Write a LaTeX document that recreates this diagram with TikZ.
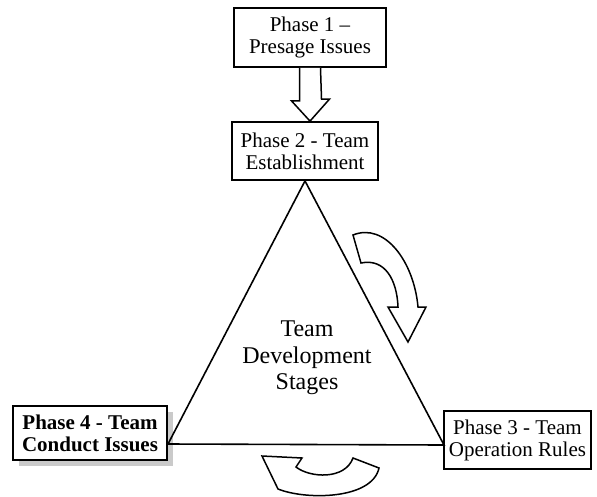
\documentclass[tikz,border=0pt]{standalone}
\usepackage{fontspec}
\setmainfont{Liberation Serif}
\usetikzlibrary{calc,shadows}
\begin{document}
\begin{tikzpicture}[x=1pt,y=-1pt,
  phasebox/.style={draw,line width=1.8pt,fill=white,align=center,inner sep=0pt,
    font=\fontsize{21}{22}\selectfont},
  blockarrow/.style={draw,fill=white,line width=1.5pt,line join=miter},
  edge/.style={line width=1.6pt,line join=miter}]
\useasboundingbox (0,0) rectangle (597,496);

% phase boxes
\node[phasebox,minimum width=152pt,minimum height=59pt] (p1) at (310,37.5)
  {Phase 1 –\\Presage Issues};
\node[phasebox,minimum width=146pt,minimum height=58pt] (p2) at (305,151)
  {Phase 2 - Team\\Establishment};
\node[phasebox,minimum width=147pt,minimum height=58pt] (p3) at (517.5,440)
  {Phase 3 - Team\\Operation Rules};
\node[phasebox,font=\fontsize{21}{22}\selectfont\bfseries,
  minimum width=154pt,minimum height=54pt,
  drop shadow={shadow xshift=6pt,shadow yshift=-6pt,fill=gray!70,opacity=.6}]
  (p4) at (90,433) {Phase 4 - Team\\Conduct Issues};

% triangle of development stages
\coordinate (L) at (168,444);
\coordinate (R) at (444,445);
\draw[edge] (p2.south) -- (L) -- (R) -- cycle;

\node[align=center,font=\fontsize{24}{26.5}\selectfont] (tds) at (307,358)
  {Team\\Development\\Stages};

% hollow arrow from phase 1 to phase 2
\draw[blockarrow] ($(p1.south)+(-10.5,0)$) -- ++(0,33) -- ++(-8,0)
  -- (p1.south |- p2.north) -- ++(19.5,-22) -- ++(-8,0)
  -- ($(p1.south)+(10.5,0)$);

% curved arrow beside the right edge
\draw[blockarrow] (353,235) .. controls (385,222) and (414,262) .. (418,307)
  -- (426,307) -- (408,342) -- (388,307) -- (398,307)
  .. controls (397,280) and (385,258) .. (361,263) -- cycle;

% curved arrow below the base
\draw[blockarrow] (262,456) -- (302,458) -- (296,467)
  .. controls (310,478) and (345,480) .. (353,458) -- (379,468)
  .. controls (372,500) and (305,500) .. (278,489) -- cycle;
\end{tikzpicture}
\end{document}
